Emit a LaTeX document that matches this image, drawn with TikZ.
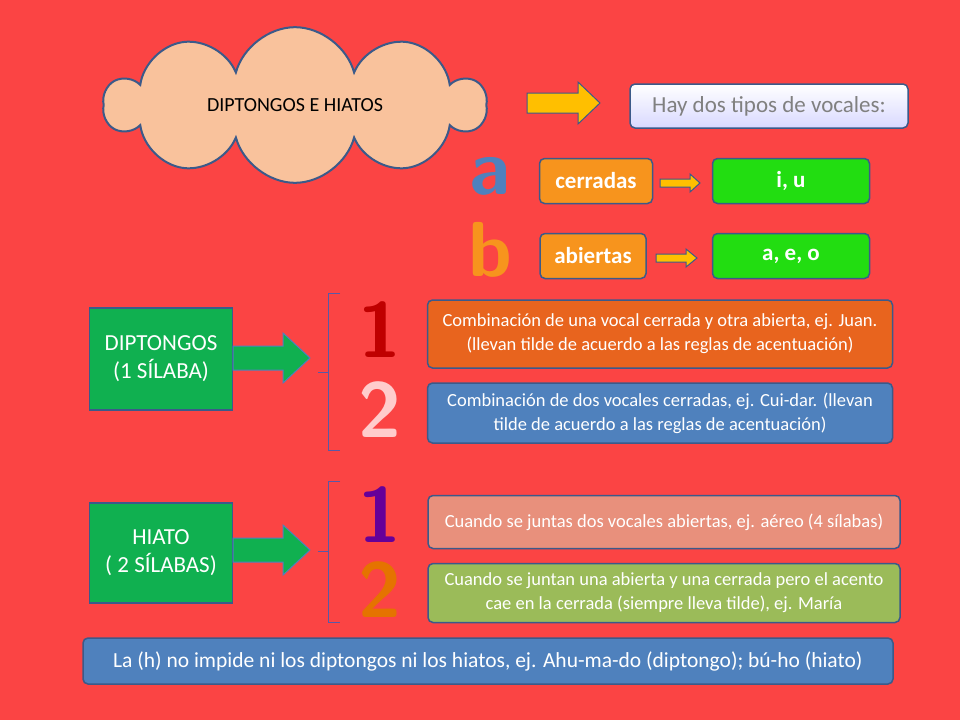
\documentclass[tikz,border=0pt]{standalone}
\usepackage{fontspec}
\setmainfont{Carlito}
\usetikzlibrary{shapes.symbols}
\definecolor{bg}{HTML}{FB4444}
\definecolor{bord}{HTML}{3B5A8A}
\definecolor{peach}{HTML}{F9C29C}
\definecolor{orng}{HTML}{F7941D}
\definecolor{grn}{HTML}{22DD11}
\definecolor{dgrn}{HTML}{10B050}
\definecolor{dorng}{HTML}{E8641E}
\definecolor{blu}{HTML}{4F81BD}
\definecolor{salm}{HTML}{E8907C}
\definecolor{olive}{HTML}{9BBB59}
\newcommand\blockarr[7]{% x0 x1 x2 y shafthalf headhalf style
  \draw[#7] (#1,#4-#5) -- (#2,#4-#5) -- (#2,#4-#6) -- (#3,#4) -- (#2,#4+#6) -- (#2,#4+#5) -- (#1,#4+#5) -- cycle;}
\begin{document}
\begin{tikzpicture}[x=1pt,y=-1pt,
  box/.style={draw=bord,line width=1.5pt,rounded corners=5pt,text=white,align=center,inner sep=0pt},
  yarr/.style={draw=bord,line width=1pt,fill=orange!50!yellow},
  garr/.style={draw=blu,line width=1pt,fill=dgrn},
  brk/.style={draw=gray!70!blue,line width=1pt},
  big/.style={font=\fontsize{78}{78}\selectfont\sffamily\bfseries}]
\fill[bg] (0,0) rectangle (960,720);
\useasboundingbox (0,0) rectangle (960,720);
\node[cloud,cloud puffs=10,aspect=2.6,draw=bord,line width=2pt,fill=peach,minimum width=380,minimum height=125,font=\fontsize{20}{22}\selectfont] (cl) at (295,105) {DIPTONGOS E HIATOS};
\blockarr{527}{578}{600}{103}{10}{21}{yarr}
\node[box,top color=white,bottom color=blue!15,text=gray,minimum width=278,minimum height=44,font=\fontsize{23}{26}\selectfont] (hay) at (769,106) {Hay dos tipos de vocales:};
\node[text=blu,big] (la) at (490,176) {a};
\node[text=orng,big] (lb) at (490,250) {b};
\node[box,fill=orng,minimum width=113,minimum height=45,font=\fontsize{23}{26}\selectfont\bfseries] (cer) at (596,181) {cerradas};
\node[box,fill=grn,minimum width=157,minimum height=45,font=\fontsize{23}{26}\selectfont\bfseries] (iu) at (791,181) {i, u};
\node[box,fill=orng,minimum width=106,minimum height=45,font=\fontsize{23}{26}\selectfont\bfseries] (abi) at (593,256) {abiertas};
\node[box,fill=grn,minimum width=157,minimum height=45,font=\fontsize{23}{26}\selectfont\bfseries] (aeo) at (791,256) {a, e, o};
\blockarr{660}{690}{700}{183}{4}{9}{yarr}
\blockarr{656}{686}{697}{258}{4}{9}{yarr}
% diptongos
\node[box,rounded corners=0pt,fill=dgrn,minimum width=143,minimum height=102,font=\fontsize{23}{28}\selectfont] (dip) at (161,359) {DIPTONGOS\\(1 SÍLABA)};
\blockarr{233}{283}{310}{358}{12}{25}{garr}
\draw[brk] (340,293) -- (328,293) -- (328,450) -- (340,450);
\draw[brk] (318,372) -- (328,372);
\node[text=red!75!black,big] (n1) at (380,330) {1};
\node[text=white!80!red,big] (n2) at (380,410) {2};
\node[box,fill=dorng,minimum width=465,minimum height=68,font=\fontsize{18.5}{24}\selectfont] (c1) at (660,334) {Combinación de una vocal cerrada y otra abierta, ej. Juan.\\(llevan tilde de acuerdo a las reglas de acentuación)};
\node[box,fill=blu,minimum width=465,minimum height=60,font=\fontsize{18.5}{24}\selectfont] (c2) at (660,413) {Combinación de dos vocales cerradas, ej. Cui-dar. (llevan\\tilde de acuerdo a las reglas de acentuación)};
% hiato
\node[box,rounded corners=0pt,fill=dgrn,minimum width=143,minimum height=100,font=\fontsize{23}{28}\selectfont] (hia) at (161,553) {HIATO\\( 2 SÍLABAS)};
\blockarr{233}{283}{310}{550}{12}{25}{garr}
\draw[brk] (340,481) -- (328,481) -- (328,622) -- (340,622);
\draw[brk] (318,551) -- (328,551);
\node[text=violet!80!blue,big] (h1) at (380,515) {1};
\node[text=orange!90!black,big] (h2) at (380,590) {2};
\node[box,fill=salm,minimum width=472,minimum height=53,font=\fontsize{18.5}{24}\selectfont] (c3) at (664,522) {Cuando se juntas dos vocales abiertas, ej. aéreo (4 sílabas)};
\node[box,fill=olive,minimum width=472,minimum height=59,font=\fontsize{18.5}{24}\selectfont] (c4) at (664,593) {Cuando se juntan una abierta y una cerrada pero el acento\\cae en la cerrada (siempre lleva tilde), ej. María};
\node[box,fill=blu,minimum width=810,minimum height=46,font=\fontsize{21.5}{24}\selectfont] (bot) at (488,661) {La (h) no impide ni los diptongos ni los hiatos, ej. Ahu-ma-do (diptongo); bú-ho (hiato)};
\end{tikzpicture}
\end{document}
